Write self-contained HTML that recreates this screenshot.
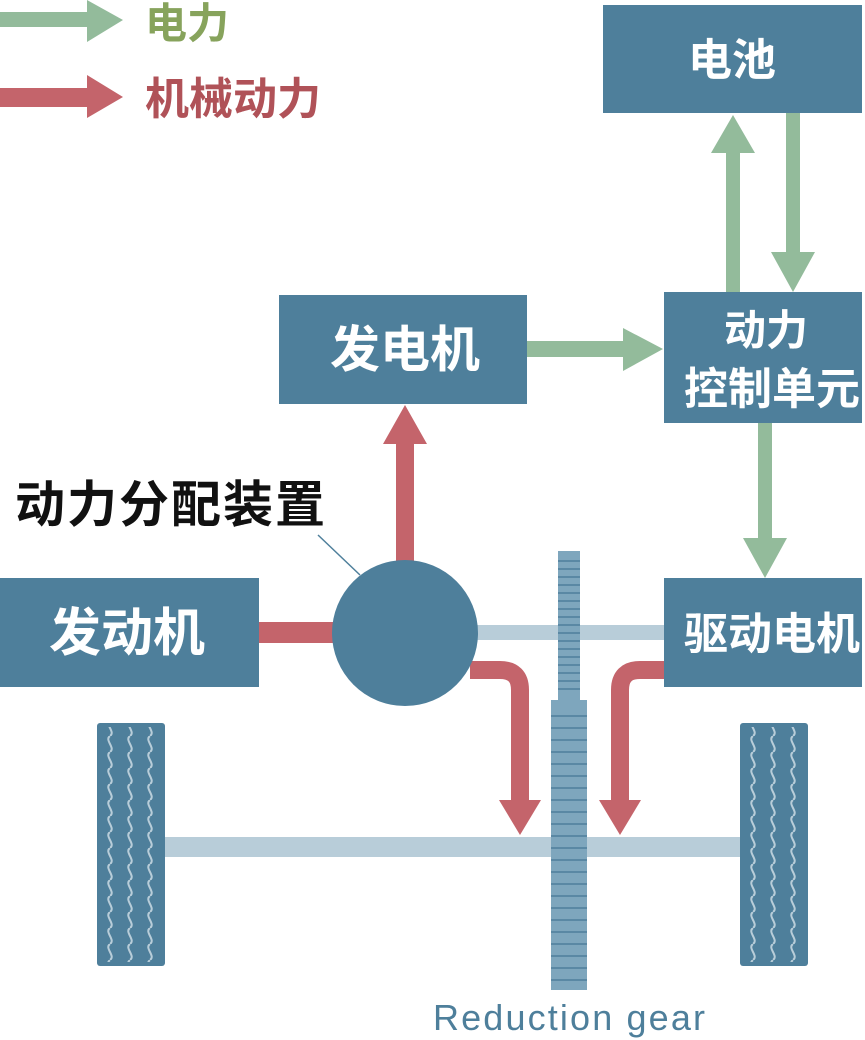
<!DOCTYPE html>
<html><head><meta charset="utf-8"><style>
html,body{margin:0;padding:0;background:#fff;width:865px;height:1040px;overflow:hidden}
svg{display:block}
text{font-family:"Liberation Sans","Noto Sans CJK SC",sans-serif;font-weight:bold}
</style></head><body>
<svg width="865" height="1040" viewBox="0 0 865 1040">
<defs>
<pattern id="tp1" width="68" height="16" patternUnits="userSpaceOnUse" patternTransform="translate(97 0)">
<path d="M13 0c-6 4 6 12 0 16M33 0c-6 4 6 12 0 16M53 0c-6 4 6 12 0 16" fill="none" stroke="#b8cdd9" stroke-width="2"/>
</pattern>
<pattern id="tp2" width="68" height="16" patternUnits="userSpaceOnUse" patternTransform="translate(740 0)">
<path d="M13 0c-6 4 6 12 0 16M33 0c-6 4 6 12 0 16M53 0c-6 4 6 12 0 16" fill="none" stroke="#b8cdd9" stroke-width="2"/>
</pattern>
</defs>
<!-- legend -->
<path d="M0 12H87V0L123 20L87 42V27H0Z" fill="#93bb9b"/>
<text x="145" y="38" font-size="42" fill="#87a35c">电力</text>
<path d="M0 88H87V75L123 97L87 118V107H0Z" fill="#c4646b"/>
<text x="145" y="114" font-size="44" fill="#b05258">机械动力</text>

<!-- light shafts -->
<rect x="165" y="837" width="575" height="20" fill="#b8cdd9"/>
<rect x="470" y="625" width="194" height="15" fill="#b8cdd9"/>

<!-- gear -->
<rect x="558" y="551" width="22" height="150" fill="#7ea6bd"/>
<g stroke="#4e7f9b" stroke-width="1.5">
<path d="M558 561H580M558 569H580M558 577H580M558 585H580M558 593H580M558 601H580M558 609H580M558 617H580M558 625H580M558 633H580M558 641H580M558 649H580M558 657H580M558 665H580M558 673H580M558 681H580M558 689H580"/>
</g>
<rect x="551" y="700" width="36" height="290" fill="#7ea6bd"/>
<g stroke="#4e7f9b" stroke-width="1.5">
<path d="M551 716H587M551 728H587M551 740H587M551 752H587M551 764H587M551 776H587M551 788H587M551 800H587M551 812H587M551 824H587M551 836H587M551 848H587M551 860H587M551 872H587M551 884H587M551 896H587M551 908H587M551 920H587M551 932H587M551 944H587M551 956H587M551 968H587M551 980H587"/>
</g>

<!-- tires -->
<rect x="97" y="723" width="68" height="243" rx="3" fill="#4e7f9b"/>
<rect x="97" y="727" width="68" height="235" fill="url(#tp1)"/>
<rect x="740" y="723" width="68" height="243" rx="3" fill="#4e7f9b"/>
<rect x="740" y="727" width="68" height="235" fill="url(#tp2)"/>

<!-- red curved arrows -->
<path d="M470 670H500Q520 670 520 690V800" fill="none" stroke="#c4646b" stroke-width="18"/>
<path d="M499 800H541L520 835Z" fill="#c4646b"/>
<path d="M664 670H640Q620 670 620 690V800" fill="none" stroke="#c4646b" stroke-width="18"/>
<path d="M599 800H641L620 835Z" fill="#c4646b"/>

<!-- red engine to circle -->
<rect x="259" y="622" width="80" height="21" fill="#c4646b"/>
<!-- red up -->
<path d="M396 565V444H383L405 405L427 444H414V565Z" fill="#c4646b"/>

<!-- circle -->
<circle cx="405" cy="633" r="73" fill="#4e7f9b"/>
<line x1="318" y1="535" x2="360" y2="575" stroke="#4e7f9b" stroke-width="1.5"/>
<text x="15" y="522" font-size="50" fill="#111" textLength="310">动力分配装置</text>

<!-- green arrows -->
<path d="M527 341H623V328L663 349L623 371V357H527Z" fill="#93bb9b"/>
<path d="M726 292V153H711L733 115L755 153H740V292Z" fill="#93bb9b"/>
<path d="M786 113V252H771L793 292L815 252H800V113Z" fill="#93bb9b"/>
<path d="M758 423V538H743L765 578L787 538H772V423Z" fill="#93bb9b"/>

<!-- boxes -->
<rect x="603" y="5" width="259" height="108" fill="#4e7f9b"/>
<text x="732" y="75" font-size="44" fill="#fff" text-anchor="middle">电池</text>
<rect x="279" y="295" width="248" height="109" fill="#4e7f9b"/>
<text x="405" y="367" font-size="50" fill="#fff" text-anchor="middle">发电机</text>
<rect x="664" y="292" width="198" height="131" fill="#4e7f9b"/>
<text x="766" y="345" font-size="42" fill="#fff" text-anchor="middle">动力</text>
<text x="772" y="404" font-size="44" fill="#fff" text-anchor="middle">控制单元</text>
<rect x="664" y="578" width="198" height="109" fill="#4e7f9b"/>
<text x="772" y="649" font-size="44" fill="#fff" text-anchor="middle">驱动电机</text>
<rect x="0" y="578" width="259" height="109" fill="#4e7f9b"/>
<text x="127" y="651" font-size="52" fill="#fff" text-anchor="middle">发动机</text>

<text x="569" y="1030" font-size="36" fill="#4e7f9b" text-anchor="middle" style="font-weight:normal" textLength="272">Reduction gear</text>
</svg>
</body></html>
